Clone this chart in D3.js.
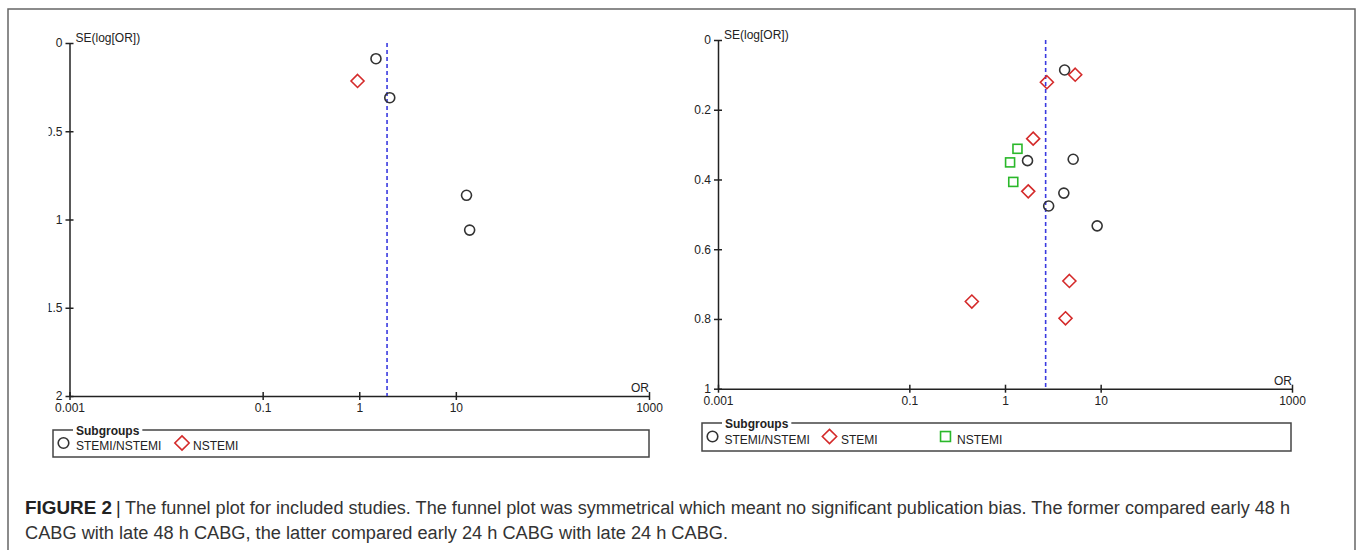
<!DOCTYPE html>
<html><head><meta charset="utf-8">
<script src="https://cdn.jsdelivr.net/npm/d3@7"></script>
<style>
html,body{margin:0;padding:0;background:#fff;}
svg{display:block;font-family:"Liberation Sans",Arial,sans-serif;}
</style></head>
<body>
<svg id="c" width="1357" height="550"></svg>
<script>
// ---- data ----
const xTickValues = [0.001, 0.1, 1, 10, 1000];
const xTickLabels = ["0.001", "0.1", "1", "10", "1000"];
const leftYTicks = [0, 0.5, 1, 1.5, 2];
const rightYTicks = [0, 0.2, 0.4, 0.6, 0.8, 1];

// left plot (early 48 h vs late 48 h)
const leftStemiNstemiOR = [1.49, 2.07, 12.9, 13.9];
const leftStemiNstemiSE = [0.089, 0.31, 0.863, 1.06];
const leftNstemiOR = [0.96];
const leftNstemiSE = [0.215];
const leftPooledOR = 1.94;
const leftLegend = ["STEMI/NSTEMI", "NSTEMI"];

// right plot (early 24 h vs late 24 h)
const rightStemiNstemiOR = [4.2, 1.72, 5.16, 4.12, 2.86, 9.19];
const rightStemiNstemiSE = [0.086, 0.346, 0.342, 0.439, 0.476, 0.533];
const rightStemiOR = [5.42, 2.74, 1.97, 1.75, 4.71, 0.45, 4.29];
const rightStemiSE = [0.0995, 0.121, 0.283, 0.434, 0.691, 0.750, 0.798];
const rightNstemiOR = [1.35, 1.13, 1.22];
const rightNstemiSE = [0.312, 0.351, 0.407];
const rightPooledOR = 2.66;
const rightLegend = ["STEMI/NSTEMI", "STEMI", "NSTEMI"];

const captionBold = "FIGURE 2";
const captionLine1 = "The funnel plot for included studies. The funnel plot was symmetrical which meant no significant publication bias. The former compared early 48 h";
const captionLine2 = "CABG with late 48 h CABG, the latter compared early 24 h CABG with late 24 h CABG.";

// ---- styles ----
const COL = {circle: "#333", diamond: "#d42a2a", square: "#2ab82a", axis: "#222", dash: "#3a3ae0", text: "#222"};

const svg = d3.select("#c");

// outer frame
svg.append("path")
  .attr("d", "M8,560 L8,9 L1355,9 L1355,560")
  .attr("fill", "none").attr("stroke", "#666").attr("stroke-width", 1.5);

function marker(g, type, x, y, size) {
  if (type === "circle") {
    g.append("circle").attr("cx", x).attr("cy", y).attr("r", size)
      .attr("fill", "none").attr("stroke", COL.circle).attr("stroke-width", 1.6);
  } else if (type === "diamond") {
    const s = size * 1.3;
    g.append("path").attr("d", `M${x},${y - s} L${x + s},${y} L${x},${y + s} L${x - s},${y} Z`)
      .attr("fill", "none").attr("stroke", COL.diamond).attr("stroke-width", 1.6);
  } else {
    const s = size * 0.9;
    g.append("rect").attr("x", x - s).attr("y", y - s).attr("width", 2 * s).attr("height", 2 * s)
      .attr("fill", "none").attr("stroke", COL.square).attr("stroke-width", 1.6);
  }
}

function panel(cfg) {
  const g = svg.append("g");
  if (cfg.clipX !== undefined) {
    const id = "clip" + cfg.id;
    svg.append("clipPath").attr("id", id).append("rect")
      .attr("x", cfg.clipX).attr("y", 0).attr("width", 700).attr("height", 550);
    g.attr("clip-path", `url(#${id})`);
  }
  const x = d3.scaleLog().domain([0.001, 1000]).range(cfg.xr);
  const y = d3.scaleLinear().domain(cfg.yd).range(cfg.yr);

  // x axis
  const xa = g.append("g").attr("transform", `translate(0,${cfg.yr[1]})`)
    .call(d3.axisBottom(x).tickValues(xTickValues).tickFormat((d, i) => xTickLabels[i]).tickSizeOuter(0));
  xa.select(".domain").attr("stroke", COL.axis).attr("stroke-width", 1.5);
  xa.selectAll(".tick line").attr("y1", -4).attr("y2", 4).attr("stroke", COL.axis).attr("stroke-width", 1.5);
  xa.selectAll(".tick text").attr("y", 16).attr("dy", 0).attr("font-size", 12).attr("fill", COL.text).attr("font-family", null);

  // y axis
  const ya = g.append("g").attr("transform", `translate(${cfg.xr[0]},0)`)
    .call(d3.axisLeft(y).tickValues(cfg.yTicks).tickFormat(d3.format("")).tickSizeOuter(0));
  ya.select(".domain").attr("stroke", COL.axis).attr("stroke-width", 1.5);
  ya.selectAll(".tick line").attr("x1", -4).attr("x2", 4).attr("stroke", COL.axis).attr("stroke-width", 1.5);
  ya.selectAll(".tick text").attr("x", -7).attr("font-size", 12).attr("fill", COL.text).attr("font-family", null);

  // axis titles
  g.append("text").attr("x", cfg.xr[0] + 6).attr("y", cfg.yr[0] - 1.5)
    .attr("font-size", 12).attr("fill", COL.text).text("SE(log[OR])");
  g.append("text").attr("x", cfg.xr[1]).attr("y", cfg.yr[1] - 4).attr("text-anchor", "end")
    .attr("font-size", 12).attr("fill", COL.text).text("OR");

  // pooled line
  g.append("line").attr("x1", x(cfg.pooled)).attr("x2", x(cfg.pooled))
    .attr("y1", cfg.yr[0]).attr("y2", cfg.yr[1])
    .attr("stroke", COL.dash).attr("stroke-width", 1.6).attr("stroke-dasharray", "4,3");

  // points
  cfg.series.forEach(s => {
    s.or.forEach((v, i) => marker(g, s.type, x(v), y(s.se[i]), 5));
  });

  // legend
  const L = cfg.legend;
  const lg = svg.append("g");
  lg.append("rect").attr("x", L.x0).attr("y", L.top).attr("width", L.x1 - L.x0).attr("height", L.bottom - L.top)
    .attr("fill", "none").attr("stroke", "#444").attr("stroke-width", 1.5);
  const title = lg.append("text").attr("x", L.x0 + 23).attr("y", L.top + 4.5)
    .attr("font-size", 12).attr("font-weight", "bold").attr("fill", COL.text).text("Subgroups");
  const tw = title.node().getComputedTextLength();
  lg.insert("rect", "text").attr("x", L.x0 + 20).attr("y", L.top - 3).attr("width", tw + 6).attr("height", 6).attr("fill", "#fff");
  L.items.forEach((it, i) => {
    marker(lg, it.type, it.mx, L.my, it.type === "circle" ? 5.3 : 5.5);
    lg.append("text").attr("x", it.tx).attr("y", L.my + 7).attr("font-size", 12)
      .attr("fill", COL.text).text(it.label);
  });
}

panel({
  id: "L", clipX: 48.5,
  xr: [69.5, 649], yd: [0, 2], yr: [43, 396], yTicks: leftYTicks, pooled: leftPooledOR,
  series: [
    {type: "circle", or: leftStemiNstemiOR, se: leftStemiNstemiSE},
    {type: "diamond", or: leftNstemiOR, se: leftNstemiSE}
  ],
  legend: {x0: 53, x1: 649, top: 430, bottom: 457, my: 443,
    items: [
      {type: "circle", mx: 63.5, tx: 76, label: leftLegend[0]},
      {type: "diamond", mx: 182, tx: 193, label: leftLegend[1]}
    ]}
});

panel({
  id: "R",
  xr: [718, 1292], yd: [0, 1], yr: [40, 388.7], yTicks: rightYTicks, pooled: rightPooledOR,
  series: [
    {type: "circle", or: rightStemiNstemiOR, se: rightStemiNstemiSE},
    {type: "diamond", or: rightStemiOR, se: rightStemiSE},
    {type: "square", or: rightNstemiOR, se: rightNstemiSE}
  ],
  legend: {x0: 702, x1: 1291, top: 423, bottom: 451, my: 436.5,
    items: [
      {type: "circle", mx: 712.5, tx: 724.5, label: rightLegend[0]},
      {type: "diamond", mx: 829.5, tx: 841, label: rightLegend[1]},
      {type: "square", mx: 945.5, tx: 957, label: rightLegend[2]}
    ]}
});

// caption
const cap = svg.append("g").attr("font-size", 18).attr("fill", "#333");
cap.append("text").attr("x", 25).attr("y", 514).attr("font-weight", "bold").attr("fill", "#222")
  .attr("textLength", 87).attr("lengthAdjust", "spacingAndGlyphs").text(captionBold);
cap.append("text").attr("x", 116).attr("y", 514).attr("fill", "#222").text("|");
cap.append("text").attr("x", 125).attr("y", 514)
  .attr("textLength", 1165).attr("lengthAdjust", "spacingAndGlyphs").text(captionLine1);
cap.append("text").attr("x", 25).attr("y", 539)
  .attr("textLength", 703).attr("lengthAdjust", "spacingAndGlyphs").text(captionLine2);
</script>
</body></html>
